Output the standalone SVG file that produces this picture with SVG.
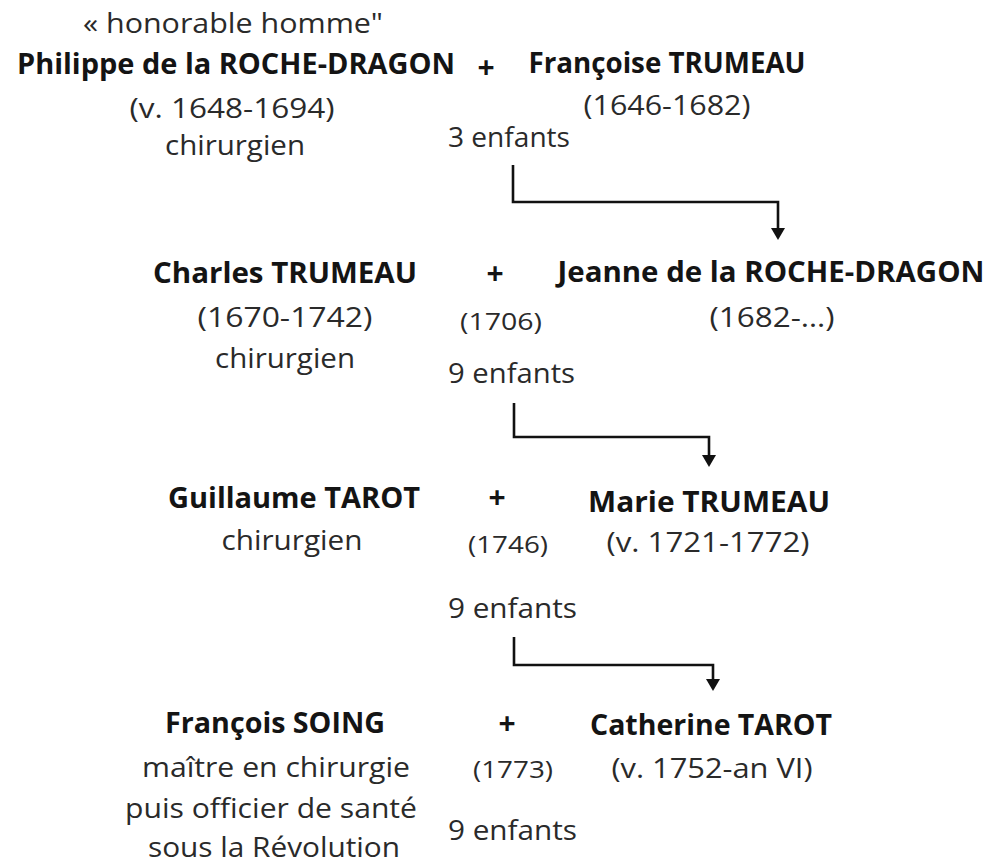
<svg xmlns="http://www.w3.org/2000/svg" width="992" height="865" viewBox="0 0 992 865">
  <style>
    text { font-family: "Open Sans", "Noto Sans", "Liberation Sans", sans-serif; }
    .name { font-weight: 700; font-size: 28px; fill: #141414; text-anchor: middle; }
    .info { font-weight: 400; font-size: 28px; fill: #2a2a2a; text-anchor: middle; }
    .small { font-weight: 400; font-size: 24px; fill: #2a2a2a; text-anchor: middle; }
    .kids { font-weight: 400; font-size: 28px; fill: #2a2a2a; text-anchor: start; }
    .plus { font-weight: 700; font-size: 30px; fill: #141414; text-anchor: middle; }
    .link { fill: none; stroke: #111; stroke-width: 2.6; }
  </style>
  <defs>
    <marker id="arrow" viewBox="0 0 12 14" refX="1" refY="7" markerWidth="12" markerHeight="14" markerUnits="userSpaceOnUse" orient="auto">
      <path d="M0,0 L12,7 L0,14 z" fill="#111"/>
    </marker>
  </defs>

  <!-- generation 1 -->
  <g id="philippe">
    <text class="info" x="233" y="33" textLength="300" lengthAdjust="spacingAndGlyphs">« honorable  homme"</text>
    <text class="name" x="236" y="74" textLength="438" lengthAdjust="spacingAndGlyphs">Philippe de la ROCHE-DRAGON</text>
    <text class="info" x="232" y="118" textLength="205" lengthAdjust="spacingAndGlyphs">(v. 1648-1694)</text>
    <text class="info" x="235" y="155" textLength="140" lengthAdjust="spacingAndGlyphs">chirurgien</text>
  </g>
  <g id="union1">
    <text class="plus" x="486" y="78">+</text>
    <text class="kids" x="448" y="147" textLength="122" lengthAdjust="spacingAndGlyphs">3 enfants</text>
  </g>
  <g id="francoise">
    <text class="name" x="667" y="73" textLength="277" lengthAdjust="spacingAndGlyphs">Françoise TRUMEAU</text>
    <text class="info" x="667" y="115" textLength="167" lengthAdjust="spacingAndGlyphs">(1646-1682)</text>
  </g>

  <!-- generation 2 -->
  <g id="charles">
    <text class="name" x="285" y="283" textLength="264" lengthAdjust="spacingAndGlyphs">Charles TRUMEAU</text>
    <text class="info" x="285" y="327" textLength="175" lengthAdjust="spacingAndGlyphs">(1670-1742)</text>
    <text class="info" x="285" y="368" textLength="140" lengthAdjust="spacingAndGlyphs">chirurgien</text>
  </g>
  <g id="union2">
    <text class="plus" x="495" y="284">+</text>
    <text class="small" x="501" y="330" textLength="82" lengthAdjust="spacingAndGlyphs">(1706)</text>
    <text class="kids" x="448" y="383" textLength="127" lengthAdjust="spacingAndGlyphs">9 enfants</text>
  </g>
  <g id="jeanne">
    <text class="name" x="771" y="282" textLength="427" lengthAdjust="spacingAndGlyphs">Jeanne de la ROCHE-DRAGON</text>
    <text class="info" x="772" y="327" textLength="125" lengthAdjust="spacingAndGlyphs">(1682-…)</text>
  </g>

  <!-- generation 3 -->
  <g id="guillaume">
    <text class="name" x="294" y="508" textLength="252" lengthAdjust="spacingAndGlyphs">Guillaume TAROT</text>
    <text class="info" x="292" y="550" textLength="141" lengthAdjust="spacingAndGlyphs">chirurgien</text>
  </g>
  <g id="union3">
    <text class="plus" x="497" y="508">+</text>
    <text class="small" x="508" y="553" textLength="80" lengthAdjust="spacingAndGlyphs">(1746)</text>
    <text class="kids" x="448" y="618" textLength="129" lengthAdjust="spacingAndGlyphs">9 enfants</text>
  </g>
  <g id="marie">
    <text class="name" x="709" y="512" textLength="242" lengthAdjust="spacingAndGlyphs">Marie TRUMEAU</text>
    <text class="info" x="708" y="552" textLength="203" lengthAdjust="spacingAndGlyphs">(v. 1721-1772)</text>
  </g>

  <!-- generation 4 -->
  <g id="francois">
    <text class="name" x="275" y="733" textLength="220" lengthAdjust="spacingAndGlyphs">François SOING</text>
    <text class="info" x="276" y="777" textLength="268" lengthAdjust="spacingAndGlyphs">maître en chirurgie</text>
    <text class="info" x="271" y="818" textLength="292" lengthAdjust="spacingAndGlyphs">puis officier de santé</text>
    <text class="info" x="274" y="857" textLength="252" lengthAdjust="spacingAndGlyphs">sous la Révolution</text>
  </g>
  <g id="union4">
    <text class="plus" x="507" y="734">+</text>
    <text class="small" x="513" y="778" textLength="80" lengthAdjust="spacingAndGlyphs">(1773)</text>
    <text class="kids" x="448" y="840" textLength="129" lengthAdjust="spacingAndGlyphs">9 enfants</text>
  </g>
  <g id="catherine">
    <text class="name" x="711" y="735" textLength="242" lengthAdjust="spacingAndGlyphs">Catherine TAROT</text>
    <text class="info" x="712" y="778" textLength="201" lengthAdjust="spacingAndGlyphs">(v. 1752-an VI)</text>
  </g>

  <!-- descent links -->
  <g id="connectors">
    <path class="link" d="M513,165 V202 H778 V229" marker-end="url(#arrow)"/>
    <path class="link" d="M514,403 V437 H709 V456" marker-end="url(#arrow)"/>
    <path class="link" d="M514,637 V665 H713 V680" marker-end="url(#arrow)"/>
  </g>
</svg>
